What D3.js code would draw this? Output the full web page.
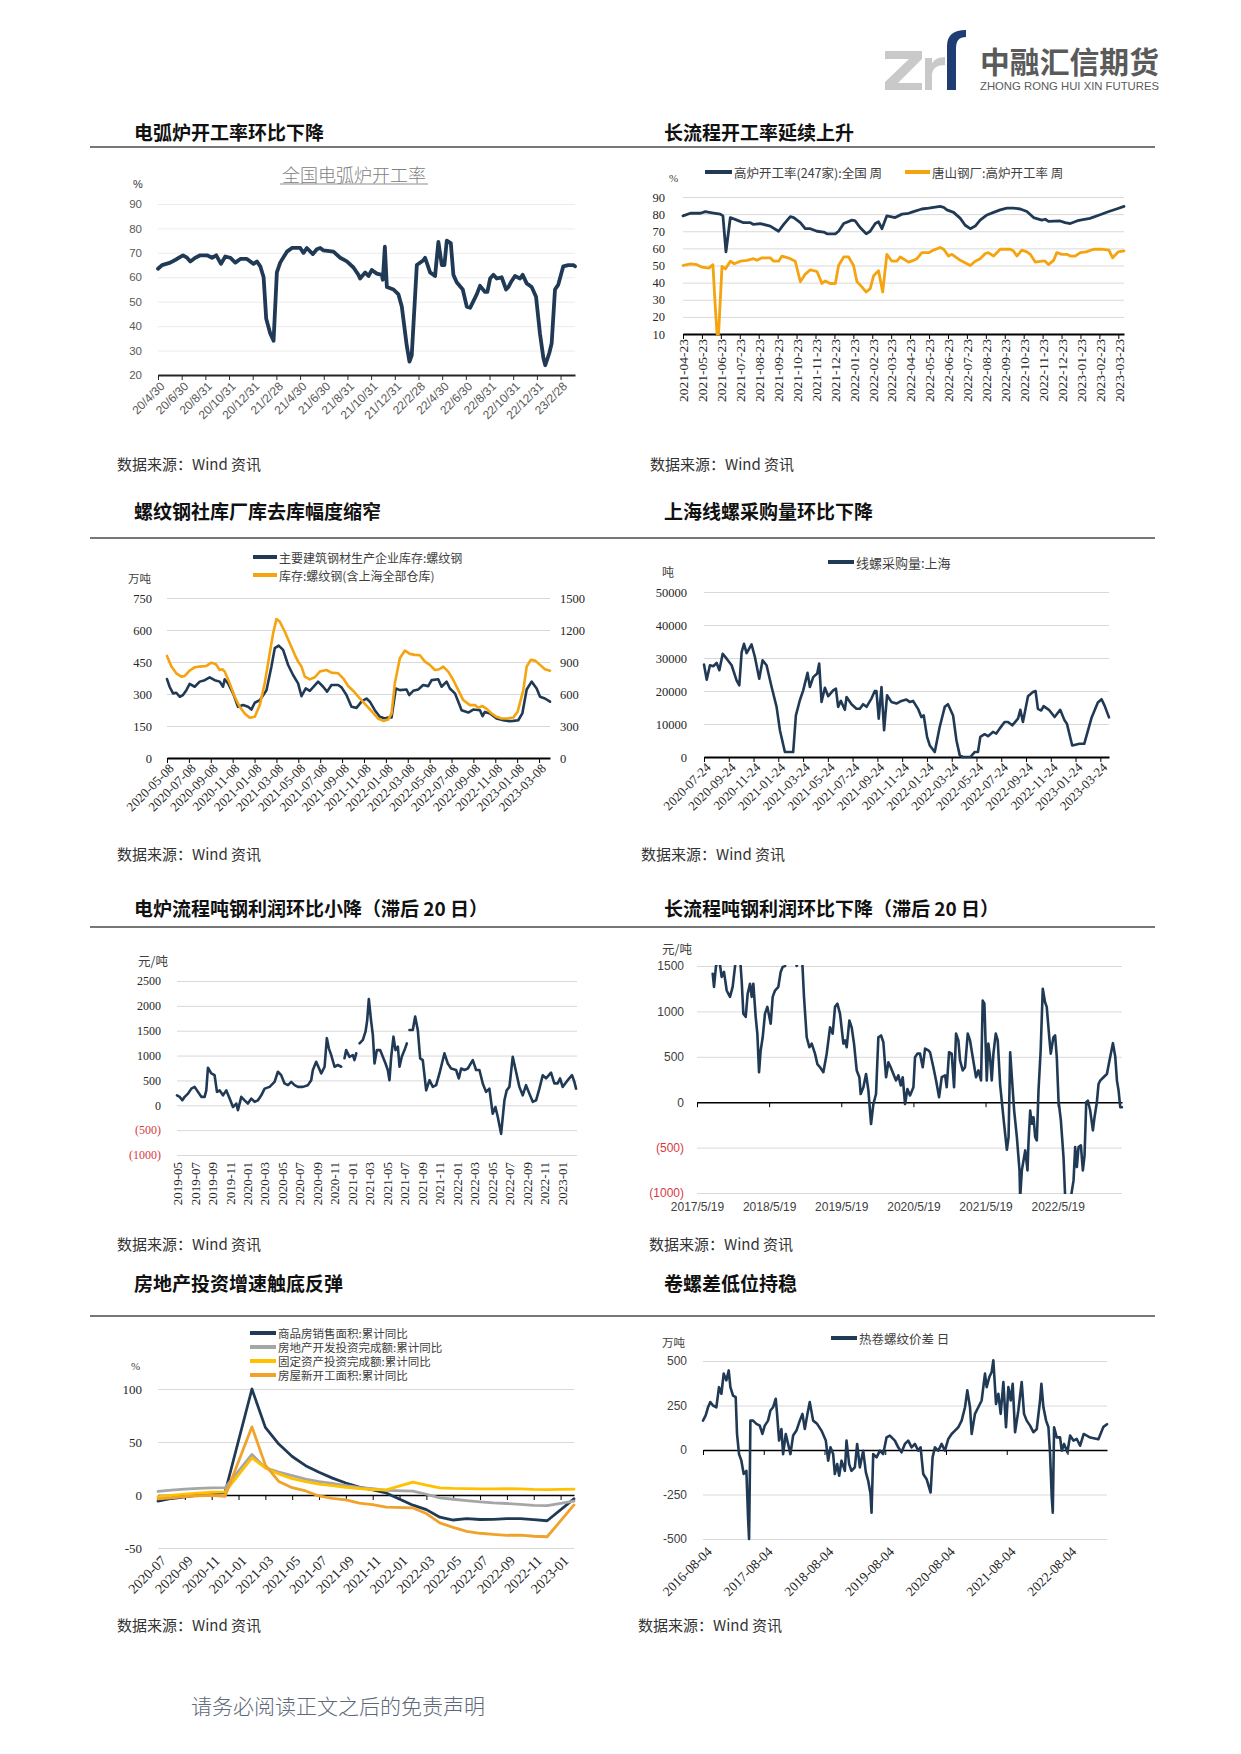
<!DOCTYPE html>
<html><head><meta charset="utf-8">
<script src="https://cdn.jsdelivr.net/npm/d3@7/dist/d3.min.js"></script>
<style>body{margin:0;background:#fff;}</style>
</head><body>
<svg id="page" width="1241" height="1754" xmlns="http://www.w3.org/2000/svg"></svg>
<script>
// ---------------- DATA (time in months from the first tick label) ----------------
// Chart 1: 全国电弧炉开工率 (%)
const eafXLabels = ['20/4/30','20/6/30','20/8/31','20/10/31','20/12/31','21/2/28','21/4/30','21/6/30','21/8/31','21/10/31','21/12/31','22/2/28','22/4/30','22/6/30','22/8/31','22/10/31','22/12/31','23/2/28'];
const eafYTicks = [20,30,40,50,60,70,80,90];
const eafT = [0,0.34,1.04,1.6,2.11,2.45,2.73,3.15,3.57,4.14,4.56,4.92,5.32,5.68,6.1,6.53,6.95,7.51,8.07,8.35,8.64,8.92,9.14,9.48,9.76,10.04,10.32,10.89,11.31,12.01,12.29,12.57,13.08,13.42,13.7,13.98,14.82,15.39,15.95,16.51,16.93,17.07,17.5,17.78,18.06,18.48,18.9,18.99,19.16,19.33,19.89,20.31,20.59,21.01,21.24,21.43,21.86,22.42,22.56,22.98,23.4,23.68,23.97,24.19,24.39,24.73,24.95,25.23,25.74,26.08,26.36,26.92,27.2,27.62,27.82,28.05,28.33,28.61,29.03,29.4,29.59,29.87,30.15,30.58,30.8,31.14,31.56,31.93,32.26,32.55,32.71,33.05,33.25,33.53,33.81,34.23,34.66,35.08,35.22];
const eafV = [63.5,65,66,67.5,69,68,66.5,68,69,69,68,69,65.5,68.5,68,66,67.5,67.5,65.5,66.5,64.5,60,43,37,34,62,66,70.5,72,72,70,72,69.5,71.5,72,71,70.5,68,66.5,64,61,59.5,62,60.5,63,61.5,61,59,72.5,56,55,53,48,32,25.5,28,65,67,68,62,60.5,74.5,65,65,75,74,61,58,55,48,47.5,53,56.5,54,54,59.5,61,59.5,60,55,56,58.5,60.5,59.5,61,57.5,56,52,37,27,24,29,33,55,57,64.5,65,65,64.5];

// Chart 2: 高炉开工率 (%)
const bfXLabels = ['2021-04-23','2021-05-23','2021-06-23','2021-07-23','2021-08-23','2021-09-23','2021-10-23','2021-11-23','2021-12-23','2022-01-23','2022-02-23','2022-03-23','2022-04-23','2022-05-23','2022-06-23','2022-07-23','2022-08-23','2022-09-23','2022-10-23','2022-11-23','2022-12-23','2023-01-23','2023-02-23','2023-03-23'];
const bfYTicks = [10,20,30,40,50,60,70,80,90];
const bfT = [0,0.39,0.92,1.18,1.53,1.97,2.11,2.27,2.5,2.85,3.2,3.56,3.73,4.08,4.61,5.05,5.32,5.67,5.85,6.2,6.46,6.73,7.08,7.43,7.61,8.05,8.22,8.49,8.93,9.1,9.37,9.68,9.89,10.16,10.33,10.51,10.77,11.21,11.57,11.92,12.18,12.62,12.98,13.24,13.59,13.77,13.94,14.3,14.65,14.91,15.18,15.44,15.7,16.06,16.41,16.76,17.11,17.46,17.82,18.17,18.52,18.96,19.14,19.31,19.93,20.19,20.46,20.81,20.99,21.5,22,22.5,22.9,23.3];
const bfV = [79,80.5,80.5,81.5,80.8,80,79,58,78,76.5,75,75,74,74.5,73,70,74,78.5,78,75,71.5,71.5,70,69.5,68.5,68.5,70,74.5,76.5,76,72,68.5,70,74.5,75.5,71.5,79,78,80,80.5,81.5,83,83.5,84,84.5,84,82.5,81,77.5,73.5,71.5,73,76.5,79.5,81,82.5,83.5,83.5,83,81.5,78,76.5,77,75.8,76,75,74.5,76,76.5,77.5,79.5,81.5,83,84.5];
const tsT = [0,0.39,0.74,1.0,1.36,1.58,1.71,1.8,1.88,2.06,2.24,2.5,2.71,3.03,3.38,3.73,3.91,4.17,4.61,4.79,5.05,5.23,5.67,5.93,6.2,6.46,6.73,7.08,7.34,7.52,7.78,8.05,8.22,8.49,8.75,9.01,9.19,9.45,9.68,9.89,10.07,10.33,10.55,10.77,11.04,11.3,11.48,11.92,12.18,12.36,12.62,12.98,13.24,13.59,13.77,14.03,14.21,14.65,15.18,15.44,15.7,15.97,16.14,16.41,16.76,17.29,17.46,17.64,17.9,18.17,18.35,18.61,18.96,19.14,19.31,19.58,19.75,20.02,20.28,20.46,20.72,20.99,21.3,21.7,22.1,22.5,22.7,23.0,23.3];
const tsV = [50,51,50.5,49,48.5,50.5,25,10,10,49.5,48,52.5,51,52.5,53,54,53,54.5,54.5,52.5,52.5,55.5,54,52.5,40.5,45,47.5,46.5,39.5,41,39.5,39.5,50,55,55,50,40.5,37.5,34.5,36.5,44,47,34.5,56.5,52.5,52.5,55,52,53,54,57.5,57.5,59,60.5,59.5,55.5,56.5,53,50,52.5,54,57,57.5,55.5,59.5,59.5,58.5,55.5,59,58,56.5,52,52.5,52.5,50.5,53,57.5,56.5,56.5,55.5,55.5,57.5,58,59.5,59.5,59,54.5,58,58.5];

// Chart 3: 螺纹钢库存 (万吨)
const rbXLabels = ['2020-05-08','2020-07-08','2020-09-08','2020-11-08','2021-01-08','2021-03-08','2021-05-08','2021-07-08','2021-09-08','2021-11-08','2022-01-08','2022-03-08','2022-05-08','2022-07-08','2022-09-08','2022-11-08','2023-01-08','2023-03-08'];
const rbYLeft = [0,150,300,450,600,750];
const rbYRight = [0,300,600,900,1200,1500];
const rbT1 = [0,0.24,0.55,0.85,1.16,1.46,1.77,2.07,2.53,2.99,3.45,3.9,4.36,4.82,5.12,5.27,5.58,6.04,6.49,6.95,7.41,7.71,8.02,8.48,9.09,9.54,9.85,10.21,10.61,11.07,11.52,11.98,12.29,12.68,13.05,13.81,14.27,14.63,15.03,15.64,15.95,16.4,16.86,17.32,17.77,18.23,18.54,18.99,19.45,19.91,20.21,20.52,20.91,21.28,21.89,22.13,22.5,22.96,23.41,23.87,24.18,24.79,25.09,25.55,25.85,26.31,26.62,26.92,27.53,27.99,28.6,28.84,29.05,29.51,30.12,30.73,31.28,31.65,32.1,32.47,32.87,33.32,33.78,34.09,34.54,35.0];
const rbV1 = [370,334,303,306,287,295,318,347,334,358,365,378,365,358,334,369,350,303,240,248,240,227,259,271,318,428,515,527,507,436,389,350,290,326,315,358,334,311,342,342,331,295,240,235,264,279,264,224,193,185,190,190,326,318,321,295,315,321,342,337,365,369,334,358,326,303,264,224,213,227,224,196,216,209,185,177,173,174,177,209,321,358,326,287,279,264];
const rbT2 = [0,0.4,0.85,1.31,1.62,2.07,2.53,2.99,3.6,4.05,4.45,4.82,5.06,5.27,5.73,6.19,6.65,7.1,7.56,8.02,8.48,8.93,9.39,9.7,10.0,10.3,10.76,11.22,11.68,11.98,12.29,12.59,13.05,13.51,13.96,14.57,15.03,15.64,16.1,16.55,17.01,17.62,18.23,18.84,19.3,19.76,20.21,20.52,20.82,21.28,21.74,22.2,22.65,23.11,23.57,24.02,24.48,24.88,25.24,25.7,26.16,26.62,27.07,27.68,28.14,28.45,28.84,29.21,29.66,30.12,30.58,31.19,31.65,32.04,32.56,32.87,33.23,33.63,34.09,34.54,35.0];
const rbV2 = [957,857,794,763,769,819,850,857,863,894,882,825,832,810,700,574,480,417,377,386,496,700,982,1170,1302,1280,1186,1076,967,904,857,763,737,757,810,825,800,794,747,675,631,558,492,423,370,348,360,417,700,935,1007,976,967,963,904,873,825,832,857,810,731,637,543,496,496,471,487,461,417,386,370,373,379,433,637,857,920,913,873,832,819];

// Chart 4: 线螺采购量:上海 (吨)
const wrXLabels = ['2020-07-24','2020-09-24','2020-11-24','2021-01-24','2021-03-24','2021-05-24','2021-07-24','2021-09-24','2021-11-24','2022-01-24','2022-03-24','2022-05-24','2022-07-24','2022-09-24','2022-11-24','2023-01-24','2023-03-24'];
const wrYTicks = [0,10000,20000,30000,40000,50000];
const wrT = [0,0.22,0.48,0.75,1.02,1.24,1.51,1.83,2.23,2.63,2.85,3.04,3.23,3.44,3.84,4.11,4.46,4.73,5.05,5.46,5.86,6.13,6.53,7.2,7.42,7.74,8.01,8.36,8.55,8.82,9.14,9.3,9.49,9.76,10.03,10.43,10.65,10.83,11.05,11.37,11.51,11.91,12.31,12.58,12.85,13.12,13.52,13.79,13.92,14.11,14.33,14.54,14.78,15.13,15.54,15.94,16.34,16.61,16.88,17.28,17.55,17.74,18.01,18.23,18.63,19.03,19.44,19.7,20.11,20.38,20.65,20.91,21.51,21.85,22.12,22.31,22.66,22.93,23.33,23.6,23.87,24.27,24.54,24.89,25.35,25.54,25.75,26.16,26.56,26.77,26.96,27.23,27.42,27.85,28.31,28.76,29.11,29.3,29.73,30.32,30.7,31.3,31.8,32.1,32.35,32.7];
const wrV = [28000,23400,27800,27500,28500,26300,31300,29800,27800,23200,21700,31800,34300,31500,34100,30300,23700,29300,27800,21200,15200,8100,1500,1500,12600,17200,20200,25500,21200,24200,25300,28300,16700,21000,18400,20200,20700,15200,17000,14300,18200,16000,14600,14600,16000,15200,17700,20000,20000,11600,21200,8100,18700,16700,16200,17000,17400,16700,17000,14600,12100,12600,6100,3500,1500,9100,15200,16000,12600,5100,500,0,0,1500,1500,6100,6900,6300,7600,7100,8600,10600,10600,9600,11600,14300,10600,18400,19700,20000,14600,14100,15400,14300,12100,14300,11100,10100,3500,4000,4000,12000,16500,17500,15500,12000];

// Chart 5: 电炉流程吨钢利润 (元/吨), null = break in series
const epXLabels = ['2019-05','2019-07','2019-09','2019-11','2020-01','2020-03','2020-05','2020-07','2020-09','2020-11','2021-01','2021-03','2021-05','2021-07','2021-09','2021-11','2022-01','2022-03','2022-05','2022-07','2022-09','2022-11','2023-01'];
const epYTicks = [-1000,-500,0,500,1000,1500,2000,2500];
const epT = [0,0.3,0.61,0.88,1.26,1.64,2.02,2.4,2.78,3.16,3.35,3.54,3.92,4.3,4.57,4.88,5.26,5.64,6.02,6.4,6.78,6.97,7.35,7.73,8.11,8.5,8.88,9.26,9.64,10.02,10.59,11.16,11.54,11.92,12.3,12.69,13.07,13.45,13.83,14.4,14.97,15.35,15.54,15.92,16.5,16.88,17.14,17.37,17.64,18.02,18.4,18.78,18.97,19.16,19.35,19.73,20.11,20.3,20.5,20.69,20.88,21.26,21.56,21.75,21.94,22.21,22.4,22.59,22.86,23.24,23.54,23.85,24.11,24.3,24.5,24.76,24.99,25.26,25.45,25.71,26.02,26.29,26.44,26.59,26.97,27.24,27.54,27.81,28.11,28.5,28.88,29.26,29.64,30.02,30.4,30.59,30.97,31.35,31.92,32.23,32.5,32.88,33.26,33.83,34.21,34.59,34.97,35.35,35.73,36.11,36.42,36.69,37.07,37.45,37.71,38.02,38.4,38.78,39.16,39.54,39.92,40.3,40.69,41.07,41.45,41.83,42.21,42.78,43.16,43.54,43.81,44.11,44.69,45.18,45.45,45.64];
const epV = [200,170,100,170,235,335,370,270,170,170,300,755,640,605,270,300,200,300,135,-35,35,-100,170,100,35,135,70,100,200,335,370,470,675,605,440,405,470,405,370,370,405,505,710,875,640,775,1350,1145,1010,775,810,775,null,945,1110,975,1010,910,1045,null,1245,1315,1480,1700,2135,1685,1415,840,1110,1110,975,840,710,505,975,1380,1110,1180,775,975,1110,1245,null,1515,1515,1785,1515,945,910,300,505,370,405,640,910,1045,840,740,710,540,740,710,740,910,710,710,440,270,335,-170,-35,-235,-575,100,300,370,975,675,370,200,405,235,70,100,335,605,540,655,440,440,540,370,505,605,470,335];

// Chart 6: 长流程吨钢利润 (元/吨)
const lpXLabels = ['2017/5/19','2018/5/19','2019/5/19','2020/5/19','2021/5/19','2022/5/19'];
const lpYTicks = [-1000,-500,0,500,1000,1500];
const lpT = [2.61,2.83,3.16,3.55,3.83,4.1,4.49,4.94,5.49,5.93,6.32,6.6,7.04,7.43,7.71,8.1,8.43,8.82,9.1,9.37,9.76,10.04,10.32,10.59,10.93,11.31,11.7,12.26,12.59,12.98,13.53,13.92,14.25,14.64,15.2,16.03,16.58,17.42,17.8,18.25,18.69,19.08,19.63,20.02,20.47,21.02,21.58,22.13,22.57,22.96,23.35,23.79,24.35,24.63,24.9,25.35,25.73,26.12,26.57,27.01,27.23,27.68,28.12,28.51,28.95,29.34,29.78,30.17,30.62,31.0,31.45,31.84,32.22,32.67,33.11,33.5,33.89,34.22,34.61,35.0,35.44,36.0,36.27,36.66,37.1,37.55,37.94,38.49,38.77,39.32,39.77,40.27,40.71,41.27,41.54,41.93,42.37,42.76,43.09,43.48,43.76,44.2,44.59,45.04,45.42,45.87,46.42,46.81,47.25,47.53,47.81,48.2,48.47,48.75,49.03,49.31,49.7,50.03,50.42,50.8,51.14,51.55,51.83,52.1,52.38,52.76,53.21,53.65,53.76,54.04,54.6,54.98,55.15,55.43,55.7,55.98,56.26,56.53,56.81,57.17,57.52,57.9,58.18,58.62,58.85,59.29,59.57,59.85,60.14,60.53,60.97,61.25,61.8,62.19,62.64,62.91,63.19,63.47,63.86,64.19,64.47,64.75,65.02,65.41,65.86,66.13,66.52,66.8,67.07,67.63,68.19,68.74,69.19,69.58,69.86,70.13,70.41,70.69];
const lpV = [1415,1270,1500,1560,1510,1380,1435,1230,1160,1270,1490,1670,1700,1340,975,940,1195,1305,1160,1305,940,755,330,570,715,975,1050,865,1160,1230,1270,1435,1490,1500,1710,1670,1500,1670,1160,715,605,645,535,420,385,330,535,825,755,1050,1085,975,645,680,605,900,825,645,350,275,90,165,310,130,-240,-20,90,715,735,660,275,440,385,310,240,295,185,275,-20,145,75,165,495,535,535,385,590,570,550,385,240,55,275,295,165,550,535,165,755,680,460,350,385,755,680,495,275,350,240,1120,1085,240,645,495,240,535,755,680,200,-55,-275,-524,-385,550,275,-92,-385,-751,-1050,-751,-531,-751,-440,-92,-238,-165,-385,-421,128,570,1250,1100,1050,700,535,715,735,500,18,-201,-604,-1050,-1050,-1050,-861,-494,-714,-494,-476,-751,-586,0,18,-92,-311,-165,0,201,238,275,311,500,650,500,238,128,-55,-55];

// Chart 7: 房地产 累计同比 (%), monthly, index 0 = 2020-07
const reXLabels = ['2020-07','2020-09','2020-11','2021-01','2021-03','2021-05','2021-07','2021-09','2021-11','2022-01','2022-03','2022-05','2022-07','2022-09','2022-11','2023-01'];
const reYTicks = [-50,0,50,100];
const reT = [0,1,2,3,4,5,7,8,9,10,11,12,13,14,15,16,17,19,20,21,22,23,24,25,26,27,28,29,31];
const reSales = [-5.8,-3.3,-1.8,0.0,1.3,2.6,100,63.8,48.1,36.3,27.7,21.5,15.9,11.3,7.5,4.8,1.9,-9.6,-13.8,-20.9,-23.6,-22.2,-23.1,-23.0,-22.2,-22.3,-23.3,-24.3,-3.6];
const reInvest = [3.4,4.6,5.6,6.3,6.8,7.0,38.3,25.6,21.6,18.3,15.0,12.7,10.9,8.8,7.2,6.0,4.4,3.7,0.7,-2.7,-4.0,-5.4,-6.4,-7.4,-8.0,-8.8,-9.8,-10.0,-5.7];
const reFai = [-1.6,-0.3,0.8,1.8,2.6,2.9,35.0,25.6,19.9,15.4,12.6,10.3,8.9,7.3,6.1,5.2,4.9,12.2,9.3,6.8,6.2,6.1,5.7,5.8,5.9,5.8,5.3,5.1,5.5];
const reStarts = [-3.6,-2.7,-1.4,-0.7,-0.4,-1.2,64.3,28.2,12.8,6.9,3.8,-0.9,-3.2,-4.5,-7.7,-9.1,-11.4,-12.2,-17.5,-26.3,-30.6,-34.4,-36.1,-37.2,-38.0,-37.8,-38.9,-39.4,-9.4];
const reNames = ['商品房销售面积:累计同比','房地产开发投资完成额:累计同比','固定资产投资完成额:累计同比','房屋新开工面积:累计同比'];

// Chart 8: 热卷螺纹价差
const hrXLabels = ['2016-08-04','2017-08-04','2018-08-04','2019-08-04','2020-08-04','2021-08-04','2022-08-04'];
const hrYTicks = [-500,-250,0,250,500];
const hrT = [0,0.53,0.99,1.45,1.98,2.64,3.16,3.63,4.09,4.61,5.08,5.41,5.93,6.46,6.72,7.12,7.58,8.04,8.57,8.9,9.1,9.23,9.36,9.89,10.55,11.21,11.73,12.2,12.85,13.32,13.84,14.37,14.63,15.03,15.49,15.82,16.35,16.81,17.27,17.8,18.46,19.12,19.64,20.11,20.63,21.09,21.75,22.54,23.4,24.26,24.72,25.18,25.71,26.04,26.5,26.9,27.36,28.02,28.35,28.87,29.33,29.99,30.45,30.98,31.64,32.17,32.63,33.09,33.29,33.62,34.28,34.94,35.6,36.26,36.91,37.9,38.56,39.22,39.88,40.54,41.2,41.86,42.52,42.98,43.51,44.17,44.96,45.35,45.81,46.47,47.13,47.79,48.45,49.11,49.77,50.43,51.09,51.75,52.21,52.74,53.07,53.72,54.38,55.04,55.7,56.03,56.56,57.02,57.35,57.88,58.34,58.8,59.33,59.85,60.32,60.78,61.17,61.64,62.29,62.95,63.41,63.94,64.6,65.26,65.92,66.58,66.84,67.24,67.77,68.23,68.56,68.89,69.09,69.35,69.87,70.53,70.86,71.32,71.98,72.51,73.17,73.83,74.49,75.2,76.5,78.1,79.1,79.8];
const hrV = [165,194,240,269,250,240,353,316,429,391,447,353,306,297,90,-23,-60,-135,-117,-380,-500,-200,165,165,147,137,90,137,165,222,240,288,203,53,118,-23,90,34,-23,81,109,165,203,118,203,269,165,147,109,53,-60,15,-23,-135,-79,-145,-60,-117,53,-79,-117,-98,34,-98,-4,-126,-173,-248,-352,-23,-41,-4,-23,71,81,53,15,-13,34,53,15,34,-4,15,-135,-164,-239,-41,15,-4,34,-4,62,90,109,128,165,240,335,240,90,203,240,278,429,353,410,438,504,259,316,203,382,128,353,278,372,100,222,382,203,165,137,100,118,278,372,240,165,128,-23,-267,-352,128,71,71,-4,34,-13,81,53,62,24,90,70,60,130,145];

// ---------------- DRAWING ----------------
const svg = d3.select('#page');
const CJK = "'Noto Sans CJK SC', 'Noto Sans', sans-serif";
const SERIF = "'Liberation Serif', 'DejaVu Serif', serif";
const SANS = "'Liberation Sans', 'DejaVu Sans', sans-serif";
const NAVY = '#203a56', ORANGE = '#f5a30f';
const defs = svg.append('defs');

function txt(x, y, s, o = {}) {
  const t = svg.append('text').attr('x', x).attr('y', y).text(s)
    .attr('font-family', o.family || CJK).attr('font-size', o.size || 12)
    .attr('fill', o.fill || '#333').attr('text-anchor', o.anchor || 'start')
    .attr('dominant-baseline', 'central');
  if (o.weight) t.attr('font-weight', o.weight);
  if (o.len) t.attr('textLength', o.len).attr('lengthAdjust', 'spacingAndGlyphs');
  return t;
}
function zip(t, v) { return t.map((d, i) => ({ t: d, v: v[i] })); }
function clip(id, x0, y0, x1, y1) {
  defs.append('clipPath').attr('id', id).append('rect')
    .attr('x', x0).attr('y', y0).attr('width', x1 - x0).attr('height', y1 - y0);
}
function drawLine(x, y, data, color, w, clipId) {
  const line = d3.line().defined(d => d.v !== null && d.v !== undefined)
    .x(d => x(d.t)).y(d => y(d.v));
  const p = svg.append('path').datum(data).attr('d', line).attr('fill', 'none')
    .attr('stroke', color).attr('stroke-width', w)
    .attr('stroke-linejoin', 'round').attr('stroke-linecap', 'round');
  if (clipId) p.attr('clip-path', `url(#${clipId})`);
}
function gridY(y, vals, x0, x1, pad, o) {
  const g = svg.append('g').attr('transform', `translate(${x0},0)`)
    .call(d3.axisLeft(y).tickValues(vals).tickSize(-(x1 - x0)).tickPadding(pad)
      .tickFormat(o.fmt || (d => d)));
  g.select('.domain').remove();
  g.selectAll('.tick line').attr('stroke', o.grid || '#d9d9d9').attr('stroke-width', 1);
  g.selectAll('.tick text').attr('font-family', o.family).attr('font-size', o.size)
    .attr('fill', d => (o.red && d < 0) ? '#d8393f' : (o.color || '#404040'));
  return g;
}
function axisX(x, vals, labels, yPos, o) {
  const g = svg.append('g').attr('transform', `translate(0,${yPos})`)
    .call(d3.axisBottom(x).tickValues(vals).tickSizeInner(o.tick || 0).tickSizeOuter(0)
      .tickFormat((d, i) => labels ? labels[i] : ''));
  const dom = g.select('.domain');
  if (o.line) dom.attr('stroke', o.lineColor || '#000').attr('stroke-width', o.lineWidth || 2);
  else dom.remove();
  g.selectAll('.tick line').attr('stroke', o.lineColor || '#000').attr('stroke-width', 1);
  const t = g.selectAll('.tick text');
  if (labels) {
    t.attr('font-family', o.family).attr('font-size', o.size).attr('fill', o.color || '#404040');
    if (o.rot) t.attr('x', 0).attr('y', 0).attr('dy', '0.35em').attr('text-anchor', 'end')
      .attr('transform', `translate(${o.dx || 0},${o.dy || 0}) rotate(${o.rot})`);
    else t.attr('y', o.dy || 8);
  } else t.remove();
  return g;
}
function legendItem(x, y, len, color, label, size) {
  svg.append('line').attr('x1', x).attr('x2', x + len).attr('y1', y).attr('y2', y)
    .attr('stroke', color).attr('stroke-width', 4);
  txt(x + len + 2, y, label, { size: size, fill: '#404040' });
}
const steps = (labels, step) => labels.map((_, i) => i * step);

// ---- header logo ----
const logo = svg.append('g');
logo.append('path').attr('fill', '#c9c9c9')
  .attr('d', 'M885,51 L922,51 L922,59 L898,83 L922,83 L922,90 L885,90 L885,82 L909,59 L885,59 Z');
logo.append('path').attr('fill', '#c9c9c9')
  .attr('d', 'M925,58 L932,58 L932,63 Q936,57 945,57 L945,65 Q933,65 932,74 L932,90 L925,90 Z');
logo.append('path').attr('fill', '#1f3c73')
  .attr('d', 'M947,90 L947,46 Q947,30 966,30 L966,37 Q956,37 956,48 L956,90 Z');
txt(980, 60, '中融汇信期货', { size: 30, weight: 700, fill: '#5a5a5a', len: 179 });
txt(980, 86, 'ZHONG RONG HUI XIN FUTURES', { size: 11, fill: '#5a5a5a', family: SANS, len: 179 });

// ---- section titles, separators, sources ----
const rowTitle = [131, 510, 907, 1282];
const rowSep = [147, 538, 927, 1316];
const titlesL = ['电弧炉开工率环比下降', '螺纹钢社库厂库去库幅度缩窄', '电炉流程吨钢利润环比小降（滞后 20 日）', '房地产投资增速触底反弹'];
const titlesR = ['长流程开工率延续上升', '上海线螺采购量环比下降', '长流程吨钢利润环比下降（滞后 20 日）', '卷螺差低位持稳'];
rowTitle.forEach((yy, i) => {
  txt(134, yy, titlesL[i], { size: 19, weight: 700, fill: '#111' });
  txt(664, yy, titlesR[i], { size: 19, weight: 700, fill: '#111' });
  svg.append('line').attr('x1', 90).attr('x2', 1155).attr('y1', rowSep[i]).attr('y2', rowSep[i])
    .attr('stroke', '#4a4a4a').attr('stroke-width', 1.5);
});
const srcY = [463, 853, 1243, 1624];
const srcXR = [650, 641, 649, 638];
srcY.forEach((yy, i) => {
  txt(117, yy, '数据来源：Wind 资讯', { size: 15, fill: '#333' });
  txt(srcXR[i], yy, '数据来源：Wind 资讯', { size: 15, fill: '#333' });
});
txt(191, 1705, '请务必阅读正文之后的免责声明', { size: 21, fill: '#5d6878', weight: 300 });

// ---- Chart 1 ----
{
  const x = d3.scaleLinear().domain([0, 35.22]).range([158, 575]);
  const y = d3.scaleLinear().domain([20, 90]).range([375, 204]);
  gridY(y, eafYTicks, 158, 575, 16, { family: SANS, size: 11.5, grid: '#ebebeb', color: '#595959' });
  axisX(x, steps(eafXLabels, 2), eafXLabels, 375, { line: true, lineColor: '#262626', lineWidth: 2, tick: 5,
    family: SANS, size: 12, color: '#595959', rot: -45, dx: 4, dy: 9 });
  drawLine(x, y, zip(eafT, eafV), NAVY, 3.8);
  txt(354, 174, '全国电弧炉开工率', { size: 18, anchor: 'middle', fill: '#808080', weight: 300 });
  svg.append('line').attr('x1', 280).attr('x2', 428).attr('y1', 184).attr('y2', 184).attr('stroke', '#8c8c8c').attr('stroke-width', 1);
  txt(133, 184, '%', { size: 11, fill: '#333', family: SANS });
}

// ---- Chart 2 ----
{
  const x = d3.scaleLinear().domain([0, 23.3]).range([683, 1124]);
  const y = d3.scaleLinear().domain([10, 90]).range([334, 197]);
  gridY(y, bfYTicks, 683, 1124, 18, { family: SERIF, size: 12.5, color: '#262626' });
  axisX(x, steps(bfXLabels, 1), bfXLabels, 334, { line: true, lineWidth: 2, tick: 5,
    family: SERIF, size: 13.5, color: '#262626', rot: -90, dx: 0, dy: 5 });
  drawLine(x, y, zip(bfT, bfV), NAVY, 2.8);
  drawLine(x, y, zip(tsT, tsV), ORANGE, 2.8);
  txt(669, 178, '%', { size: 11, fill: '#404040', family: SERIF });
  legendItem(705, 172, 27, NAVY, '高炉开工率(247家):全国 周', 12.5);
  legendItem(905, 172, 25, ORANGE, '唐山钢厂:高炉开工率 周', 12.5);
}

// ---- Chart 3 ----
{
  const x = d3.scaleLinear().domain([0, 35]).range([167, 550]);
  const yL = d3.scaleLinear().domain([0, 750]).range([758, 598]);
  const yR = d3.scaleLinear().domain([0, 1500]).range([758, 598]);
  gridY(yL, rbYLeft, 167, 550, 15, { family: SERIF, size: 12.5, color: '#262626' });
  const gr = svg.append('g').attr('transform', 'translate(550,0)')
    .call(d3.axisRight(yR).tickValues(rbYRight).tickSize(0).tickPadding(10).tickFormat(d => d));
  gr.select('.domain').remove();
  gr.selectAll('text').attr('font-family', SERIF).attr('font-size', 12.5).attr('fill', '#262626');
  axisX(x, steps(rbXLabels, 2), rbXLabels, 758, { line: true, lineWidth: 2, tick: 5,
    family: SERIF, size: 13, color: '#262626', rot: -45, dx: 4, dy: 8 });
  drawLine(x, yL, zip(rbT1, rbV1), NAVY, 2.6);
  drawLine(x, yR, zip(rbT2, rbV2), ORANGE, 2.6);
  txt(128, 578, '万吨', { size: 11.5, fill: '#404040' });
  legendItem(253, 557, 24, NAVY, '主要建筑钢材生产企业库存:螺纹钢', 12);
  legendItem(253, 575, 24, ORANGE, '库存:螺纹钢(含上海全部仓库)', 12);
}

// ---- Chart 4 ----
{
  const x = d3.scaleLinear().domain([0, 32.7]).range([704, 1109]);
  const y = d3.scaleLinear().domain([0, 50000]).range([757, 592]);
  gridY(y, wrYTicks, 704, 1109, 17, { family: SERIF, size: 12.5, color: '#262626' });
  axisX(x, steps(wrXLabels, 2), wrXLabels, 757, { line: true, lineWidth: 2, tick: 5,
    family: SERIF, size: 13, color: '#262626', rot: -45, dx: 4, dy: 8 });
  drawLine(x, y, zip(wrT, wrV), NAVY, 2.6);
  txt(662, 571, '吨', { size: 12, fill: '#404040' });
  legendItem(828, 562, 26, NAVY, '线螺采购量:上海', 13);
}

// ---- Chart 5 ----
{
  const x = d3.scaleLinear().domain([0, 45.75]).range([177, 577]);
  const y = d3.scaleLinear().domain([-1000, 2500]).range([1155, 981]);
  gridY(y, epYTicks, 177, 577, 16, { family: SERIF, size: 12, color: '#262626', red: true,
    fmt: d => d < 0 ? `(${-d})` : d });
  axisX(x, steps(epXLabels, 2), epXLabels, 1155, { line: false, tick: 0,
    family: SERIF, size: 13, color: '#262626', rot: -90, dx: 0, dy: 7 });
  drawLine(x, y, zip(epT, epV), NAVY, 2.6);
  txt(138, 960, '元/吨', { size: 12.5, fill: '#404040' });
}

// ---- Chart 6 ----
{
  const x = d3.scaleLinear().domain([0, 70.7]).range([697, 1122]);
  const y = d3.scaleLinear().domain([-1000, 1500]).range([1193, 966]);
  gridY(y, lpYTicks, 697, 1122, 13, { family: SANS, size: 12, color: '#404040', red: true,
    fmt: d => d < 0 ? `(${-d})` : d });
  axisX(x, steps(lpXLabels, 12), null, y(0), { line: true, lineWidth: 1.5, tick: 5 });
  axisX(x, steps(lpXLabels, 12), lpXLabels, 1193, { line: false, tick: 0,
    family: SANS, size: 12, color: '#404040', dy: 9 });
  clip('clip6', 690, 965, 1130, 1194);
  drawLine(x, y, zip(lpT, lpV), NAVY, 2.6, 'clip6');
  txt(662, 948, '元/吨', { size: 12.5, fill: '#404040' });
}

// ---- Chart 7 ----
{
  const x = d3.scaleLinear().domain([0, 31]).range([158, 574]);
  const y = d3.scaleLinear().domain([-50, 100]).range([1548, 1389]);
  gridY(y, reYTicks, 158, 574, 16, { family: SERIF, size: 13, color: '#262626' });
  axisX(x, steps(reXLabels, 2), null, y(0), { line: true, lineWidth: 1.5, tick: 5 });
  axisX(x, steps(reXLabels, 2), reXLabels, 1548, { line: false, tick: 0,
    family: SERIF, size: 14, color: '#262626', rot: -45, dx: 5, dy: 10 });
  const cols = [NAVY, '#a6a6a6', '#ffc000', '#f0a22a'];
  [reSales, reInvest, reFai, reStarts].forEach((s, i) => drawLine(x, y, zip(reT, s), cols[i], 2.8));
  txt(131, 1366, '%', { size: 11, fill: '#404040', family: SERIF });
  reNames.forEach((n, i) => legendItem(250, 1333 + i * 14, 26, cols[i], n, 11.5));
}

// ---- Chart 8 ----
{
  const x = d3.scaleLinear().domain([0, 79.8]).range([703, 1107]);
  const y = d3.scaleLinear().domain([-500, 500]).range([1539, 1361]);
  gridY(y, hrYTicks, 703, 1107, 16, { family: SANS, size: 12, color: '#404040' });
  axisX(x, steps(hrXLabels, 12), null, y(0), { line: true, lineWidth: 1.5, tick: 5 });
  axisX(x, steps(hrXLabels, 12), hrXLabels, 1539, { line: false, tick: 0,
    family: SERIF, size: 13.5, color: '#262626', rot: -45, dx: 6, dy: 10 });
  clip('clip8', 700, 1358, 1110, 1541);
  drawLine(x, y, zip(hrT, hrV), NAVY, 2.6, 'clip8');
  txt(662, 1342, '万吨', { size: 11.5, fill: '#404040' });
  legendItem(831, 1338, 26, NAVY, '热卷螺纹价差 日', 12.5);
}
</script>
</body></html>
